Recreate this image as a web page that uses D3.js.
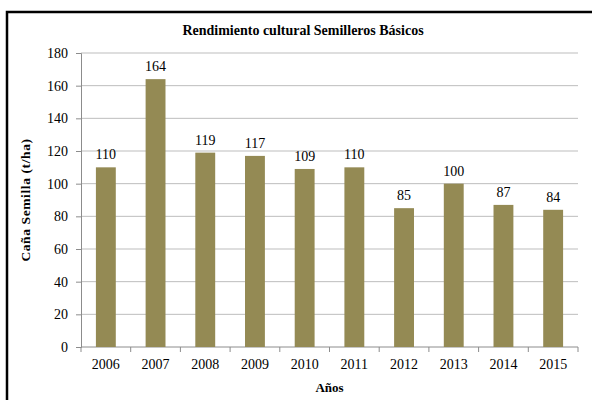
<!DOCTYPE html>
<html>
<head>
<meta charset="utf-8">
<script src="https://cdn.jsdelivr.net/npm/d3@7"></script>
<style>
  html, body { margin: 0; padding: 0; background: #fff; overflow: hidden; }
  svg { display: block; }
</style>
</head>
<body>
<div class="chart"></div>
<script>
// Rendimiento cultural - bar chart

var years = ["2006", "2007", "2008", "2009", "2010", "2011", "2012", "2013", "2014", "2015"];
var yieldValues = [110, 164, 119, 117, 109, 110, 85, 100, 87, 84];
var yTicks = [0, 20, 40, 60, 80, 100, 120, 140, 160, 180];

var svgWidth = 592;
var svgHeight = 400;
var serif = "Liberation Serif";

var margin = { top: 53, right: 14, bottom: 53, left: 81 };
var plotWidth = svgWidth - margin.left - margin.right;
var plotHeight = svgHeight - margin.top - margin.bottom;

var svg = d3.select(".chart")
    .append("svg")
    .attr("width", svgWidth)
    .attr("height", svgHeight)
    .attr("font-family", serif);

// frame: only the top and left edges show in the picture
svg.append("path")
    .attr("d", `M7,${svgHeight} V12 H${svgWidth}`)
    .attr("fill", "none")
    .attr("stroke", "#000")
    .attr("stroke-width", 2.5);

var chartGroup = svg.append("g")
    .attr("transform", `translate(${margin.left}, ${margin.top})`);

var xScale = d3.scaleBand()
    .domain(years)
    .range([0, plotWidth])
    .paddingInner(0.6)
    .paddingOuter(0.3);

var xLine = d3.scaleBand().domain(years).range([0, plotWidth]);

var yScale = d3.scaleLinear()
    .domain([0, 180])
    .range([plotHeight, 0]);

// gridlines
chartGroup.append("g")
    .selectAll("line")
    .data(yTicks.slice(1))
    .enter()
    .append("line")
    .attr("x1", 0)
    .attr("x2", plotWidth)
    .attr("y1", d => yScale(d))
    .attr("y2", d => yScale(d))
    .attr("stroke", "#bdbdbd")
    .attr("stroke-width", 1);

// y axis
var yAxis = d3.axisLeft(yScale).tickValues(yTicks).tickSize(5).tickPadding(8);
var yAxisG = chartGroup.append("g").call(yAxis)
    .attr("font-family", serif)
    .attr("font-size", 14);
yAxisG.select(".domain").attr("stroke", "#8c8c8c");
yAxisG.selectAll(".tick line").attr("stroke", "#8c8c8c");
yAxisG.selectAll(".tick text").attr("fill", "#000");

// x axis
var xAxisG = chartGroup.append("g")
    .attr("transform", `translate(0, ${plotHeight})`);
xAxisG.append("line")
    .attr("x1", 0).attr("x2", plotWidth)
    .attr("stroke", "#8c8c8c");
xAxisG.selectAll(".xt")
    .data(years.concat(["end"]))
    .enter()
    .append("line")
    .attr("x1", (d, i) => i * xLine.step())
    .attr("x2", (d, i) => i * xLine.step())
    .attr("y1", 0).attr("y2", 5)
    .attr("stroke", "#8c8c8c");
xAxisG.selectAll(".xl")
    .data(years)
    .enter()
    .append("text")
    .attr("x", d => xLine(d) + xLine.bandwidth() / 2)
    .attr("y", 22)
    .attr("text-anchor", "middle")
    .attr("font-size", 14)
    .text(d => d);

// bars
chartGroup.selectAll(".bar")
    .data(yieldValues)
    .enter()
    .append("rect")
    .attr("class", "bar")
    .attr("x", (d, i) => xScale(years[i]))
    .attr("y", d => yScale(d))
    .attr("width", xScale.bandwidth())
    .attr("height", d => plotHeight - yScale(d))
    .attr("fill", "#948a54");

// value labels
chartGroup.selectAll(".val")
    .data(yieldValues)
    .enter()
    .append("text")
    .attr("x", (d, i) => xScale(years[i]) + xScale.bandwidth() / 2)
    .attr("y", d => yScale(d) - 8)
    .attr("text-anchor", "middle")
    .attr("font-size", 14)
    .text(d => d);

// titles
svg.append("text")
    .attr("x", 303)
    .attr("y", 35)
    .attr("text-anchor", "middle")
    .attr("font-size", 14)
    .attr("font-weight", "bold")
    .text("Rendimiento cultural Semilleros Básicos");

svg.append("text")
    .attr("transform", `translate(30, ${margin.top + plotHeight / 2}) rotate(-90)`)
    .attr("text-anchor", "middle")
    .attr("font-size", 13.5)
    .attr("font-weight", "bold")
    .attr("letter-spacing", 0.6)
    .text("Caña Semilla (t/ha)");

svg.append("text")
    .attr("x", margin.left + plotWidth / 2)
    .attr("y", 392)
    .attr("text-anchor", "middle")
    .attr("font-size", 13)
    .attr("font-weight", "bold")
    .text("Años");
</script>
</body>
</html>
